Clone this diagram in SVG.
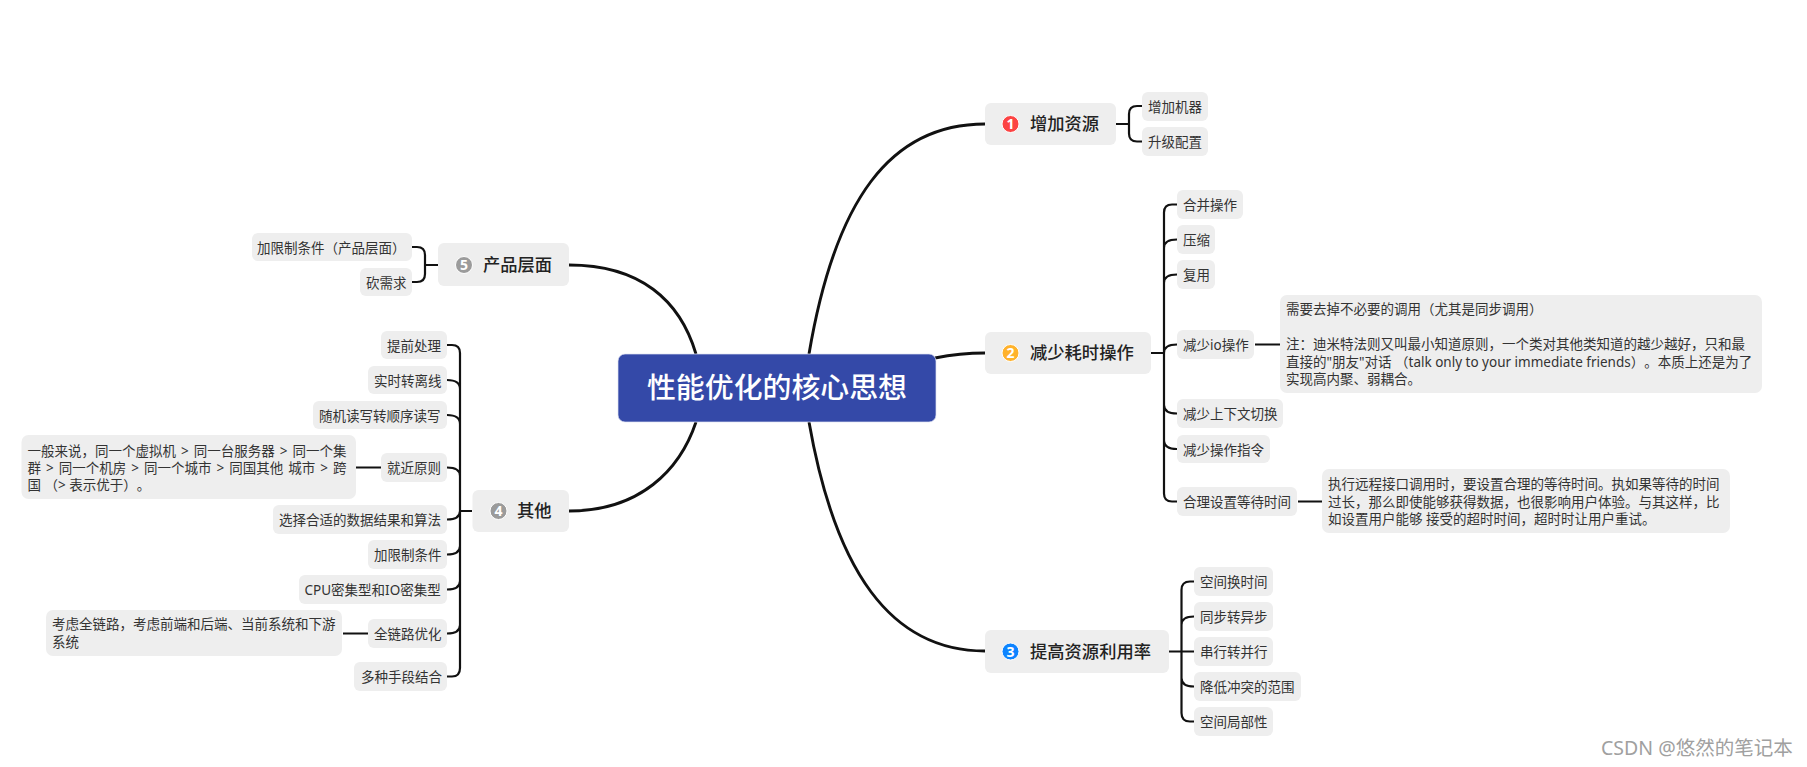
<svg xmlns="http://www.w3.org/2000/svg" width="1807" height="767" viewBox="0 0 1807 767">
<style>
text{font-family:"Noto Sans","Noto Sans CJK SC",sans-serif;fill:#333;text-spacing-trim:space-all;font-kerning:normal}
.n rect{fill:#eeeeee}
.s text{font-size:13.5px}
.t text{font-size:17.3px;font-weight:500;fill:#222}
.t .m{font-size:14px;font-weight:700;fill:#fff;text-anchor:middle}
.d{fill:none;stroke:#111;stroke-width:2.200;stroke-linecap:butt}
.e{fill:none;stroke:#111;stroke-width:2.900}
</style>
<rect width="1807" height="767" fill="#fff"/>
<g id="connectors">
<path class="e" d="M809,354C835,200 890,124 985,124"/>
<path class="e" d="M935,358C950,355 965,353 985,353"/>
<path class="e" d="M809,422C835,570 890,651 985,651"/>
<path class="e" d="M696,354C680,300 640,265 569,265"/>
<path class="e" d="M696,422C680,470 640,511 569,511"/>
<path class="d" d="M1116,124H1129M1142,106H1137Q1129,106 1129,114V133.500Q1129,141.500 1137,141.500H1142"/>
<path class="d" d="M1151,353H1164M1177,204.500H1172Q1164,204.500 1164,212.500V493.500Q1164,501.500 1172,501.500H1177M1177,239.500Q1164,239.500 1164,248M1177,274.500Q1164,274.500 1164,283M1177,344.500Q1164,344.500 1164,353M1177,413.500Q1164,413.500 1164,405M1177,449Q1164,449 1164,440"/>
<path class="d" d="M1255,344.500H1280M1298,501.500H1322"/>
<path class="d" d="M1169,651.500H1194M1194,581.500H1190Q1181.500,581.500 1181.500,590V713Q1181.500,721.500 1190,721.500H1194M1194,616.500Q1181.500,616.500 1181.500,625M1194,686.500Q1181.500,686.500 1181.500,678"/>
<path class="d" d="M438,265H425M412,247H417Q425,247 425,255V274Q425,282 417,282H412"/>
<path class="d" d="M472,511H460M447,345H452Q460,345 460,353V668Q460,676.500 452,676.500H447M447,380Q460,380 460,389M447,415Q460,415 460,424M447,467.500Q460,467.500 460,476M447,519.500Q460,519.500 460,511M447,554.500Q460,554.500 460,546M447,589.500Q460,589.500 460,581M447,633.500Q460,633.500 460,625"/>
<path class="d" d="M356,467.500H381M343,633.500H368"/>
</g>
<g id="center" class="n"><rect x="618" y="354" width="318" height="68" rx="7" style="fill:#3449a8;stroke:#dfe3f2;stroke-width:.7"/><text x="777" y="398" text-anchor="middle" style="font-size:28.900px;font-weight:500;fill:#fff">性能优化的核心思想</text></g>
<g id="topic1" class="n t"><rect x="985" y="103" width="131" height="42" rx="6"/><circle cx="1010.500" cy="124" r="8.500" fill="#fc4343" stroke="#fff"/><text class="m" x="1010.500" y="129">1</text><text x="1030" y="130">增加资源</text></g>
<g id="topic2" class="n t"><rect x="985" y="332" width="166" height="42" rx="6"/><circle cx="1010.500" cy="353" r="8.500" fill="#ffb22b" stroke="#fff"/><text class="m" x="1010.500" y="358">2</text><text x="1030" y="359">减少耗时操作</text></g>
<g id="topic3" class="n t"><rect x="985" y="630" width="184" height="43" rx="6"/><circle cx="1010.500" cy="651.500" r="8.500" fill="#0d84ff" stroke="#fff"/><text class="m" x="1010.500" y="656.500">3</text><text x="1030" y="657.500">提高资源利用率</text></g>
<g id="topic4" class="n t"><rect x="472.500" y="490" width="96.500" height="42" rx="6"/><circle cx="498.500" cy="511" r="8.500" fill="#9b9b9b" stroke="#fff"/><text class="m" x="498.500" y="516">4</text><text x="517" y="517">其他</text></g>
<g id="topic5" class="n t"><rect x="438" y="243" width="131" height="43" rx="6"/><circle cx="464" cy="265" r="8.500" fill="#9b9b9b" stroke="#fff"/><text class="m" x="464" y="270">5</text><text x="483" y="271">产品层面</text></g>
<g id="a1" class="n s"><rect x="1142" y="92" width="66" height="29" rx="6"/><text x="1148" y="112">增加机器</text></g>
<g id="a2" class="n s"><rect x="1142" y="127" width="66" height="29" rx="6"/><text x="1148" y="147">升级配置</text></g>
<g id="b1" class="n s"><rect x="1177" y="190" width="66" height="29" rx="6"/><text x="1183" y="210">合并操作</text></g>
<g id="b2" class="n s"><rect x="1177" y="225" width="38" height="29" rx="6"/><text x="1183" y="245">压缩</text></g>
<g id="b3" class="n s"><rect x="1177" y="260" width="38" height="29" rx="6"/><text x="1183" y="280">复用</text></g>
<g id="b4" class="n s"><rect x="1177" y="330" width="77" height="29" rx="6"/><text x="1183" y="349.500">减少io操作</text></g>
<g id="b4n" class="n s"><rect x="1280" y="295" width="482" height="98" rx="7"/><text x="1286" y="314">需要去掉不必要的调用（尤其是同步调用）</text><text x="1286" y="349">注：迪米特法则又叫最小知道原则，一个类对其他类知道的越少越好，只和最</text><text x="1286" y="367">直接的"朋友"对话 （talk only to your immediate friends）。本质上还是为了</text><text x="1286" y="384">实现高内聚、弱耦合。</text></g>
<g id="b5" class="n s"><rect x="1177" y="399" width="106" height="29" rx="6"/><text x="1183" y="419">减少上下文切换</text></g>
<g id="b6" class="n s"><rect x="1177" y="435" width="93" height="28" rx="6"/><text x="1183" y="455">减少操作指令</text></g>
<g id="b7" class="n s"><rect x="1177" y="487" width="120" height="29" rx="6"/><text x="1183" y="506.500">合理设置等待时间</text></g>
<g id="b7n" class="n s"><rect x="1322" y="469" width="408" height="64" rx="7"/><text x="1328" y="489">执行远程接口调用时，要设置合理的等待时间。执如果等待的时间</text><text x="1328" y="507">过长，那么即使能够获得数据，也很影响用户体验。与其这样，比</text><text x="1328" y="524">如设置用户能够 接受的超时时间，超时时让用户重试。</text></g>
<g id="c1" class="n s"><rect x="1194" y="567" width="79" height="29" rx="6"/><text x="1200" y="587">空间换时间</text></g>
<g id="c2" class="n s"><rect x="1194" y="602" width="79" height="29" rx="6"/><text x="1200" y="622">同步转异步</text></g>
<g id="c3" class="n s"><rect x="1194" y="637" width="79" height="29" rx="6"/><text x="1200" y="657">串行转并行</text></g>
<g id="c4" class="n s"><rect x="1194" y="672" width="107" height="29" rx="6"/><text x="1200" y="692">降低冲突的范围</text></g>
<g id="c5" class="n s"><rect x="1194" y="707" width="79" height="29" rx="6"/><text x="1200" y="727">空间局部性</text></g>
<g id="e1" class="n s"><rect x="252" y="233" width="160" height="28" rx="6"/><text x="257" y="253">加限制条件（产品层面）</text></g>
<g id="e2" class="n s"><rect x="360" y="268" width="52" height="28" rx="6"/><text x="366" y="288">砍需求</text></g>
<g id="d1" class="n s"><rect x="381" y="331" width="66" height="28" rx="6"/><text x="387" y="351">提前处理</text></g>
<g id="d2" class="n s"><rect x="368" y="366" width="79" height="28" rx="6"/><text x="374" y="386">实时转离线</text></g>
<g id="d3" class="n s"><rect x="313" y="401" width="134" height="28" rx="6"/><text x="319" y="421">随机读写转顺序读写</text></g>
<g id="d4" class="n s"><rect x="381" y="453" width="66" height="29" rx="6"/><text x="387" y="473">就近原则</text></g>
<g id="d4n" class="n s"><rect x="21.500" y="435" width="334.500" height="64" rx="7"/><text x="27.500" y="456" word-spacing="1.500">一般来说，同一个虚拟机 &gt; 同一台服务器 &gt; 同一个集</text><text x="27.500" y="473" word-spacing="1.500">群 &gt; 同一个机房 &gt; 同一个城市 &gt; 同国其他 城市 &gt; 跨</text><text x="27.500" y="490">国 （&gt; 表示优于）。</text></g>
<g id="d5" class="n s"><rect x="273" y="505" width="174" height="29" rx="6"/><text x="279" y="525">选择合适的数据结果和算法</text></g>
<g id="d6" class="n s"><rect x="368" y="540" width="79" height="29" rx="6"/><text x="374" y="560">加限制条件</text></g>
<g id="d7" class="n s"><rect x="299" y="575" width="148" height="29" rx="6"/><text x="304.500" y="595">CPU密集型和IO密集型</text></g>
<g id="d8" class="n s"><rect x="368" y="619" width="79" height="29" rx="6"/><text x="374" y="639">全链路优化</text></g>
<g id="d8n" class="n s"><rect x="46" y="610" width="296" height="46" rx="7"/><text x="52" y="629">考虑全链路，考虑前端和后端、当前系统和下游</text><text x="52" y="647">系统</text></g>
<g id="d9" class="n s"><rect x="354" y="662" width="93" height="29" rx="6"/><text x="361" y="682">多种手段结合</text></g>
<text id="watermark" x="1601" y="755" style="font-size:19.500px;fill:#a0a0a0">CSDN @悠然的笔记本</text>
</svg>
